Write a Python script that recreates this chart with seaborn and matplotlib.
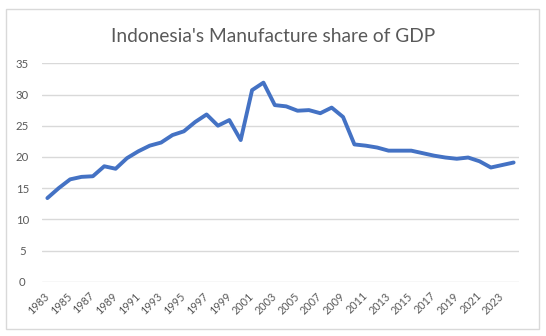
import matplotlib
matplotlib.use("Agg")
import matplotlib.pyplot as plt
import seaborn as sns
import pandas as pd
from matplotlib.patches import Rectangle

# Manufacturing value added as share of GDP (%), Indonesia
years = list(range(1983, 2025))
share = [13.4, 15.0, 16.4, 16.8, 16.9, 18.5, 18.1, 19.8, 20.9, 21.8,
         22.3, 23.5, 24.1, 25.6, 26.8, 25.0, 25.9, 22.7, 30.7, 31.9,
         28.3, 28.1, 27.4, 27.5, 27.0, 27.9, 26.4, 22.0, 21.8, 21.5,
         21.0, 21.0, 21.0, 20.6, 20.2, 19.9, 19.7, 19.9, 19.3, 18.3,
         18.7, 19.1]
tick_years = list(range(1983, 2024, 2))
y_ticks = [0, 5, 10, 15, 20, 25, 30, 35]
title = "Indonesia's Manufacture share of GDP"

df = pd.DataFrame({"Year": years, "Share": share})

sns.set_style("white")
plt.rcParams["font.family"] = ["Lato", "DejaVu Sans"]

W, H = 546, 336
fig = plt.figure(figsize=(W / 100, H / 100), dpi=100)
fig.patch.set_facecolor("white")

# chart border
fig.patches.append(Rectangle((5.7 / W, (H - 328.7) / H), 533 / W, 319.7 / H,
                             transform=fig.transFigure, fill=False,
                             edgecolor="#D9D9D9", linewidth=1.0))

left, right = 41.7 / W, 519.3 / W
bottom, top = (H - 281.7) / H, (H - 63.3) / H
ax = fig.add_axes([left, bottom, right - left, top - bottom])

sns.lineplot(data=df, x="Year", y="Share", ax=ax, color="#4472C4",
             linewidth=2.8, clip_on=False)

ax.set_xlim(1982.5, 2024.5)
ax.set_ylim(0, 35)
ax.set_yticks(y_ticks)
ax.set_xticks(tick_years)
ax.set_xticklabels([str(y) for y in tick_years], rotation=45, ha="right",
                   va="center", rotation_mode="anchor")
ax.tick_params(axis="x", length=0, pad=9, labelsize=7.8, colors="#595959")
ax.tick_params(axis="y", length=0, pad=14, labelsize=8.2, colors="#595959")
for lbl in ax.get_yticklabels():
    lbl.set_horizontalalignment("center")

ax.yaxis.grid(True, color="#D9D9D9", linewidth=1.0)
ax.xaxis.grid(False)
ax.set_axisbelow(True)
for s in ax.spines.values():
    s.set_visible(False)
ax.set_xlabel("")
ax.set_ylabel("")

fig.text(0.5, (H - 36) / H, title, ha="center", va="center",
         fontsize=13.8, color="#595959")

fig.savefig("out.png", dpi=100, facecolor="white")
